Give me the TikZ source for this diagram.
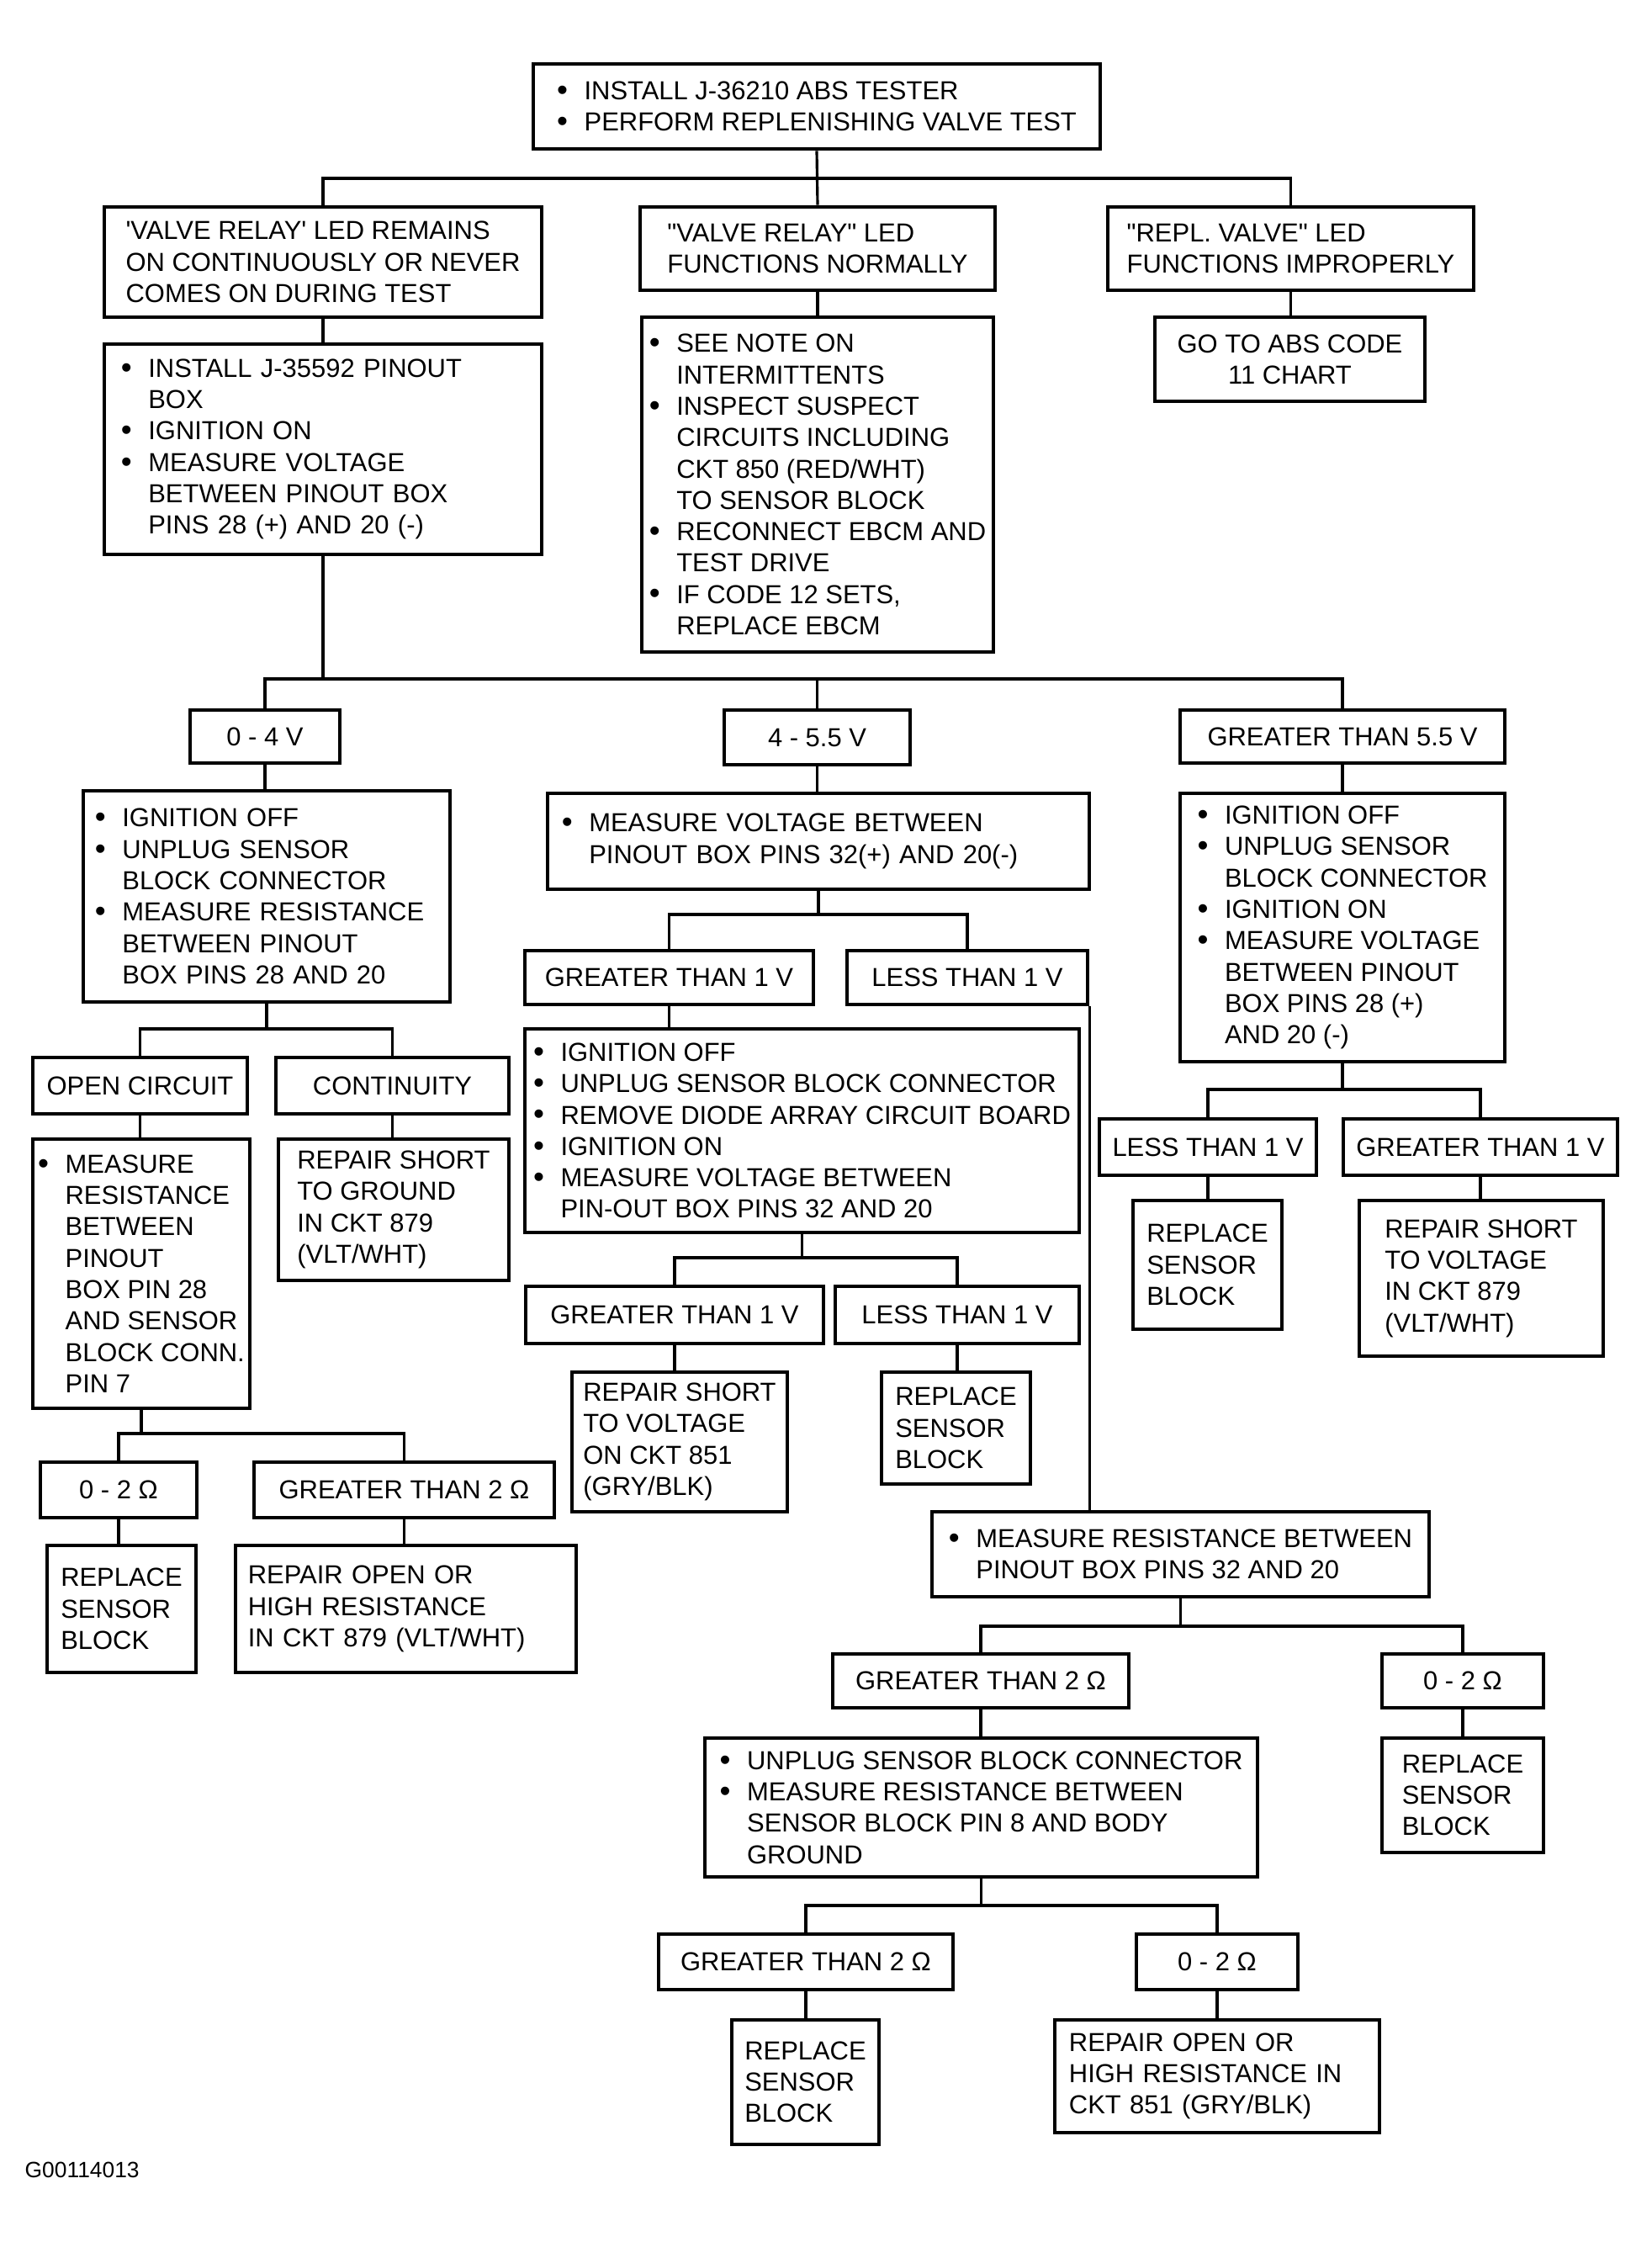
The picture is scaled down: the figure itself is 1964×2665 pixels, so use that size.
\documentclass[tikz,border=0pt]{standalone}
\usepackage{fontspec}
\setmainfont{Liberation Sans}
\usetikzlibrary{positioning}
\tikzset{
  x=0.01cm, y=-0.01cm,
  box/.style={draw, line width=1.3pt, inner sep=0pt, align=left,
    font=\fontsize{8.8}{10.6}\selectfont},
  cond/.style={box, align=center},
  sz/.style 2 args={minimum width=#1cm, minimum height=#2cm},
  pad/.style={inner xsep=#1cm},
  link/.style={line width=0.9pt},
}
\newcommand{\bul}{\makebox[1.05em][l]{\raisebox{-0.05ex}{\fontsize{10.5}{10}\selectfont\textbullet}}}
\newcommand{\ind}{\hspace*{1.05em}}

\begin{document}
\begin{tikzpicture}
  \useasboundingbox (0,0) rectangle (1964,2665);

  % Start
  \node[box, sz={6.74}{1.01}] (top) at (971,126.5)
    {\bul INSTALL J-36210 ABS TESTER\\ \bul PERFORM REPLENISHING VALVE TEST};

  % LED results
  \node[box, sz={5.20}{1.31}] (a1) at (384,311.5)
    {\textquotesingle VALVE RELAY\textquotesingle\ LED REMAINS\\ ON CONTINUOUSLY OR NEVER\\ COMES ON DURING TEST};
  \node[box, sz={4.22}{0.99}] (b1) at (972,295.5)
    {\textquotedbl VALVE RELAY\textquotedbl\ LED\\ FUNCTIONS NORMALLY};
  \node[box, sz={4.35}{0.99}] (c1) at (1534.5,295.5)
    {\textquotedbl REPL. VALVE\textquotedbl\ LED\\ FUNCTIONS IMPROPERLY};

  \node[box, sz={5.20}{2.50}, pad=0.20, text width=4.80cm] (a2) at (384,534)
    {\bul INSTALL J-35592 PINOUT\\ \ind BOX\\ \bul IGNITION ON\\ \bul MEASURE VOLTAGE\\
     \ind BETWEEN PINOUT BOX\\ \ind PINS 28 (+) AND 20 (-)};
  \node[box, sz={4.18}{3.98}] (b2) at (972,576)
    {\bul SEE NOTE ON\\ \ind INTERMITTENTS\\ \bul INSPECT SUSPECT\\ \ind CIRCUITS INCLUDING\\
     \ind CKT 850 (RED/WHT)\\ \ind TO SENSOR BLOCK\\ \bul RECONNECT EBCM AND\\ \ind TEST DRIVE\\
     \bul IF CODE 12 SETS,\\ \ind REPLACE EBCM};
  \node[cond, sz={3.21}{1.00}] (c2) at (1533.5,427) {GO TO ABS CODE\\ 11 CHART};

  % Voltage ranges
  \node[cond, sz={1.78}{0.63}] (d1) at (315,875.5) {0 - 4 V};
  \node[cond, sz={2.21}{0.65}] (e1) at (971.5,876.5) {4 - 5.5 V};
  \node[cond, sz={3.86}{0.63}] (f1) at (1596,875.5) {GREATER THAN 5.5 V};

  \node[box, sz={4.36}{2.51}, pad=0.14, text width=4.08cm] (d2) at (317,1065.5)
    {\bul IGNITION OFF\\ \bul UNPLUG SENSOR\\ \ind BLOCK CONNECTOR\\ \bul MEASURE RESISTANCE\\
     \ind BETWEEN PINOUT\\ \ind BOX PINS 28 AND 20};
  \node[box, sz={6.44}{1.14}, pad=0.17, text width=6.10cm] (e2) at (973,1000)
    {\bul MEASURE VOLTAGE BETWEEN\\ \ind PINOUT BOX PINS 32(+) AND 20(-)};
  \node[box, sz={3.86}{3.19}] (f2) at (1596,1102.5)
    {\bul IGNITION OFF\\ \bul UNPLUG SENSOR\\ \ind BLOCK CONNECTOR\\ \bul IGNITION ON\\
     \bul MEASURE VOLTAGE\\ \ind BETWEEN PINOUT\\ \ind BOX PINS 28 (+)\\ \ind AND 20 (-)};

  % 0 - 4 V branch
  \node[cond, sz={2.55}{0.67}] (oc) at (166.5,1290.5) {OPEN CIRCUIT};
  \node[cond, sz={2.77}{0.67}] (co) at (466.5,1290.5) {CONTINUITY};
  \node[box, sz={2.58}{3.20}] (oc2) at (168,1514)
    {\bul MEASURE\\ \ind RESISTANCE\\ \ind BETWEEN\\ \ind PINOUT\\ \ind BOX PIN 28\\
     \ind AND SENSOR\\ \ind BLOCK CONN.\\ \ind PIN 7};
  \node[box, sz={2.74}{1.68}] (co2) at (468,1438)
    {REPAIR SHORT\\ TO GROUND\\ IN CKT 879\\ (VLT/WHT)};
  \node[cond, sz={1.86}{0.66}] (o02) at (141,1771) {0 - 2 Ω};
  \node[cond, sz={3.57}{0.66}] (ogt) at (480.5,1771) {GREATER THAN 2 Ω};
  \node[box, sz={1.77}{1.51}] (o02c) at (144.5,1912.5) {REPLACE\\ SENSOR\\ BLOCK};
  \node[box, sz={4.05}{1.51}, pad=0.15, text width=3.75cm] (ogtc) at (482.5,1912.5)
    {REPAIR OPEN OR\\ HIGH RESISTANCE\\ IN CKT 879 (VLT/WHT)};

  % 4 - 5.5 V branch
  \node[cond, sz={3.43}{0.64}] (eg1) at (795.5,1162) {GREATER THAN 1 V};
  \node[cond, sz={2.86}{0.64}] (el1) at (1150,1162) {LESS THAN 1 V};
  \node[box, sz={6.59}{2.42}] (e3) at (953.5,1344)
    {\bul IGNITION OFF\\ \bul UNPLUG SENSOR BLOCK CONNECTOR\\ \bul REMOVE DIODE ARRAY CIRCUIT BOARD\\
     \bul IGNITION ON\\ \bul MEASURE VOLTAGE BETWEEN\\ \ind PIN-OUT BOX PINS 32 AND 20};
  \node[cond, sz={3.54}{0.68}] (eg2) at (802,1563) {GREATER THAN 1 V};
  \node[cond, sz={2.90}{0.68}] (el2) at (1138,1563) {LESS THAN 1 V};
  \node[box, sz={2.56}{1.66}] (eg3) at (808,1714)
    {REPAIR SHORT\\ TO VOLTAGE\\ ON CKT 851\\ (GRY/BLK)};
  \node[box, sz={1.77}{1.33}] (el3) at (1136.5,1697.5) {REPLACE\\ SENSOR\\ BLOCK};

  \node[box, sz={5.91}{1.01}] (mr) at (1403.5,1847.5)
    {\bul MEASURE RESISTANCE BETWEEN\\ \ind PINOUT BOX PINS 32 AND 20};
  \node[cond, sz={3.52}{0.64}] (mgt) at (1166,1998) {GREATER THAN 2 Ω};
  \node[cond, sz={1.92}{0.64}] (m02) at (1739,1998) {0 - 2 Ω};
  \node[box, sz={1.92}{1.36}] (m02c) at (1739,2134) {REPLACE\\ SENSOR\\ BLOCK};
  \node[box, sz={6.57}{1.65}] (mgtc) at (1166.5,2148.5)
    {\bul UNPLUG SENSOR BLOCK CONNECTOR\\ \bul MEASURE RESISTANCE BETWEEN\\
     \ind SENSOR BLOCK PIN 8 AND BODY\\ \ind GROUND};
  \node[cond, sz={3.50}{0.66}] (ngt) at (958,2332) {GREATER THAN 2 Ω};
  \node[cond, sz={1.92}{0.66}] (n02) at (1447,2332) {0 - 2 Ω};
  \node[box, sz={1.75}{1.48}] (ngtc) at (957.5,2475) {REPLACE\\ SENSOR\\ BLOCK};
  \node[box, sz={3.86}{1.34}, pad=0.17, text width=3.52cm] (n02c) at (1447,2468)
    {REPAIR OPEN OR\\ HIGH RESISTANCE IN\\ CKT 851 (GRY/BLK)};

  % Greater than 5.5 V branch
  \node[cond, sz={2.58}{0.67}] (fl1) at (1436,1363.5) {LESS THAN 1 V};
  \node[cond, sz={3.26}{0.67}] (fg1) at (1760,1363.5) {GREATER THAN 1 V};
  \node[box, sz={1.77}{1.53}] (fl2) at (1435.5,1503.5) {REPLACE\\ SENSOR\\ BLOCK};
  \node[box, sz={2.90}{1.85}] (fg2) at (1761,1519.5)
    {REPAIR SHORT\\ TO VOLTAGE\\ IN CKT 879\\ (VLT/WHT)};

  \node[anchor=west, inner sep=0pt, font=\fontsize{7.5}{9}\selectfont] (fig) at (29,2579) {G00114013};

  % Bus lines
  \coordinate (j1) at (971,212);
  \coordinate (j2) at (386,807);
  \coordinate (jd) at (317,1223);
  \coordinate (je) at (973,1087);
  \coordinate (jf) at (1596,1295);
  \coordinate (je3) at (953,1495);
  \coordinate (jo) at (168,1704);
  \coordinate (jm) at (1403,1933);
  \coordinate (jn) at (1166,2265);

  % Connectors
  \draw[link] (top.south) -- (b1.north);
  \draw[link] (a1.north) |- (c1.north |- j1) -- (c1.north);
  \draw[link] (a1.south) -- (a1.south |- a2.north);
  \draw[link] (b1.south) -- (b1.south |- b2.north);
  \draw[link] (c1.south) -- (c1.south |- c2.north);

  \draw[link] (a2.south) -- (a2.south |- j2);
  \draw[link] (d1.north) |- (f1.north |- j2) -- (f1.north);
  \draw[link] (e1.north) -- (e1.north |- j2);
  \draw[link] (d1.south) -- (d1.south |- d2.north);
  \draw[link] (e1.south) -- (e1.south |- e2.north);
  \draw[link] (f1.south) -- (f1.south |- f2.north);

  \draw[link] (d2.south) -- (d2.south |- jd);
  \draw[link] (oc.north) |- (co.north |- jd) -- (co.north);
  \draw[link] (oc.south) -- (oc.south |- oc2.north);
  \draw[link] (co.south) -- (co.south |- co2.north);
  \draw[link] (oc2.south) -- (oc2.south |- jo);
  \draw[link] (o02.north) |- (ogt.north |- jo) -- (ogt.north);
  \draw[link] (o02.south) -- (o02.south |- o02c.north);
  \draw[link] (ogt.south) -- (ogt.south |- ogtc.north);

  \draw[link] (e2.south) -- (e2.south |- je);
  \draw[link] (eg1.north) |- (el1.north |- je) -- (el1.north);
  \draw[link] (eg1.south) -- (eg1.south |- e3.north);
  \draw[link] (el1.south east) -- (el1.south east |- mr.north);
  \draw[link] (e3.south) -- (e3.south |- je3);
  \draw[link] (eg2.north) |- (el2.north |- je3) -- (el2.north);
  \draw[link] (eg2.south) -- (eg2.south |- eg3.north);
  \draw[link] (el2.south) -- (el2.south |- el3.north);

  \draw[link] (mr.south) -- (mr.south |- jm);
  \draw[link] (mgt.north) |- (m02.north |- jm) -- (m02.north);
  \draw[link] (m02.south) -- (m02.south |- m02c.north);
  \draw[link] (mgt.south) -- (mgt.south |- mgtc.north);
  \draw[link] (mgtc.south) -- (mgtc.south |- jn);
  \draw[link] (ngt.north) |- (n02.north |- jn) -- (n02.north);
  \draw[link] (ngt.south) -- (ngt.south |- ngtc.north);
  \draw[link] (n02.south) -- (n02.south |- n02c.north);

  \draw[link] (f2.south) -- (f2.south |- jf);
  \draw[link] (fl1.north) |- (fg1.north |- jf) -- (fg1.north);
  \draw[link] (fl1.south) -- (fl1.south |- fl2.north);
  \draw[link] (fg1.south) -- (fg1.south |- fg2.north);
\end{tikzpicture}
\end{document}
